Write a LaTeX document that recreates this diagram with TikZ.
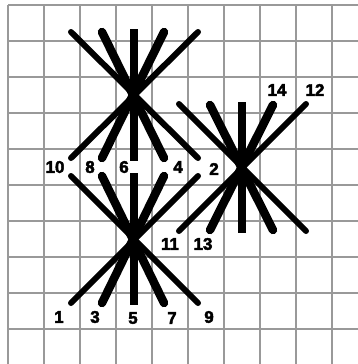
\documentclass[tikz,border=0pt]{standalone}
\usepackage{fontspec}
\setmainfont[BoldFeatures={FakeBold=2.6}]{Liberation Sans}
\definecolor{gridc}{gray}{0.6}
\tikzset{
  gridline/.style={draw=gridc,line width=1.5bp},
  outer/.style={draw=black,line width=6bp,line cap=round},
  inner/.style={draw=black,line width=8.5bp,line cap=round},
  mid/.style={draw=black,line width=8bp},
  lab/.style={inner sep=0pt,font=\bfseries\fontsize{17}{17}\selectfont,text=black}
}
\begin{document}
\begin{tikzpicture}[x=1bp,y=-1bp]
\useasboundingbox (0,0) rectangle (358,364);
\fill[white] (0,0) rectangle (358,364);
\foreach \x in {8,44,...,332} \draw[gridline] (\x,5) -- (\x,364);
\foreach \y in {5,41,...,329} \draw[gridline] (8,\y) -- (358,\y);
% star centres
\coordinate (A) at (134,95);
\coordinate (B) at (134,241);
\coordinate (C) at (242,170);
% star A
\coordinate (a1) at (71,32); \coordinate (a2) at (102,32); \coordinate (a3) at (134,29); \coordinate (a4) at (164,32); \coordinate (a5) at (198,32);
\coordinate (a6) at (71,158); \coordinate (a7) at (102,158); \coordinate (a8) at (134,161); \coordinate (a9) at (164,158); \coordinate (a10) at (198,158);
% star B
\coordinate (b1) at (71,176); \coordinate (b2) at (102,176); \coordinate (b3) at (134,173); \coordinate (b4) at (164,176); \coordinate (b5) at (198,176);
\coordinate (b6) at (71,303); \coordinate (b7) at (102,303); \coordinate (b8) at (134,305); \coordinate (b9) at (164,303); \coordinate (b10) at (198,303);
% star C
\coordinate (c1) at (179,104); \coordinate (c2) at (210,105); \coordinate (c3) at (242,102); \coordinate (c4) at (273,105); \coordinate (c5) at (306,104);
\coordinate (c6) at (179,231); \coordinate (c7) at (210,230); \coordinate (c8) at (242,233); \coordinate (c9) at (273,230); \coordinate (c10) at (306,231);
\foreach \s in {a,b,c}{
  \draw[outer] (\s1) -- (\s10);
  \draw[outer] (\s5) -- (\s6);
  \draw[inner] (\s2) -- (\s9);
  \draw[inner] (\s4) -- (\s7);
  \draw[mid] (\s3) -- (\s8);
}
\node[lab] (n10) at (55,167) {10};
\node[lab] (n8) at (90,167) {8};
\node[lab] (n6) at (124,167) {6};
\node[lab] (n4) at (178,167) {4};
\node[lab] (n2) at (214,169) {2};
\node[lab] (n14) at (277,90) {14};
\node[lab] (n12) at (315,90) {12};
\node[lab] (n11) at (170,244) {11};
\node[lab] (n13) at (203,244) {13};
\node[lab] (n1) at (59,317) {1};
\node[lab] (n3) at (95,317) {3};
\node[lab] (n5) at (133,318) {5};
\node[lab] (n7) at (172,318) {7};
\node[lab] (n9) at (209,317) {9};
\end{tikzpicture}
\end{document}
